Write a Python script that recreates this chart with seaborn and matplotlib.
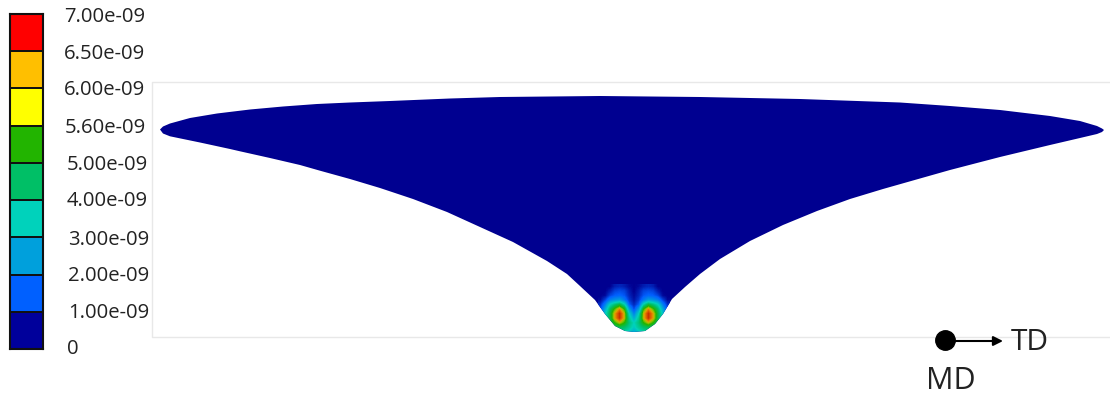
import matplotlib
matplotlib.use("Agg")
import matplotlib.pyplot as plt
from matplotlib.colors import LinearSegmentedColormap, ListedColormap
from matplotlib.patches import Polygon
import seaborn as sns

# legend
band_colors = ["#ff0000", "#ffbf00", "#ffff00", "#22b400", "#00bf66",
               "#00d2bb", "#00a0dc", "#0060ff", "#00009b"]
band_ids = [[0], [1], [2], [3], [4], [5], [6], [7], [8]]
legend_labels = ["7.00e-09", "6.50e-09", "6.00e-09", "5.60e-09", "5.00e-09",
                 "4.00e-09", "3.00e-09", "2.00e-09", "1.00e-09", "0"]
label_x = [64, 64, 64, 65, 67, 67, 68, 68, 68, 67]
label_y = [17, 54, 90, 128, 165, 201, 240, 276, 313, 349]

# sheet outline in image pixels
top_x = [160, 163, 170, 190, 217, 250, 283, 317, 350, 390, 450, 500, 600, 700, 800, 900,
         950, 1000, 1050, 1080, 1097, 1102, 1104]
top_y = [130.5, 127.5, 124.5, 119, 114.5, 110.5, 107.5, 105, 103.5, 102, 99.5, 98, 97, 98, 100, 103.5,
         107, 111, 117, 122, 127, 129.5, 131]
bot_x = [1102, 1097, 1080, 1050, 1000, 950, 920, 883, 850, 817, 783, 750, 740, 720, 700, 685,
         672, 663, 655, 645, 634, 625, 615, 605, 595, 580, 567, 547, 513, 480, 447, 413,
         380, 350, 320, 300, 270, 240, 230, 200, 170, 163]
bot_y = [133, 135, 139, 146, 158, 171, 179.5, 190, 200, 212, 226, 242, 248, 260, 275, 288,
         300, 315, 325, 332, 333, 332, 327, 315, 301, 287, 275, 262, 243, 228, 213, 200,
         189, 180, 171.7, 166, 159, 152.3, 150, 143.5, 137.3, 134.5]

# field near the tip, units of 1e-9
field_x = [598, 670]
field_y = [285, 335]
field = [
    [0, 0, 0, .3, .4, .3, .1, 0, .1, .3, .4, .3, 0, 0, 0],
    [0, 0, .3, .7, .8, .7, .3, 0, .3, .7, .8, .7, .3, 0, 0],
    [0, .1, .7, 1.0, 1.1, .9, .4, .1, .4, .9, 1.1, 1.0, .7, .1, 0],
    [.1, .7, 1.5, 1.8, 2.0, 1.4, .6, .2, .6, 1.4, 2.0, 1.8, 1.5, .7, .1],
    [.5, 1.5, 3.0, 3.8, 4.4, 3.2, 1.0, .4, 1.0, 3.2, 4.4, 3.8, 3.0, 1.5, .5],
    [.8, 2.2, 4.0, 5.2, 6.2, 5.0, 2.0, .8, 2.0, 5.0, 6.2, 5.2, 4.0, 2.2, .8],
    [1.0, 2.8, 4.3, 6.0, 7.0, 5.8, 3.0, 1.5, 3.0, 5.8, 7.0, 6.0, 4.3, 2.8, 1.0],
    [1.0, 2.8, 4.3, 6.0, 7.0, 5.8, 3.5, 2.2, 3.5, 5.8, 7.0, 6.0, 4.3, 2.8, 1.0],
    [1.0, 2.5, 4.0, 5.0, 5.8, 5.0, 3.8, 3.0, 3.8, 5.0, 5.8, 5.0, 4.0, 2.5, 1.0],
    [1.0, 2.0, 3.5, 4.0, 4.2, 4.0, 3.5, 2.8, 3.5, 4.0, 4.2, 4.0, 3.5, 2.0, 1.0],
    [1.0, 2.0, 3.0, 3.5, 3.5, 3.3, 2.8, 2.2, 2.8, 3.3, 3.5, 3.5, 3.0, 2.0, 1.0],
]
field_levels = [0, 1, 2, 3, 4, 5, 5.6, 6, 6.5, 7]
field_colors = ["#000090", "#0060ff", "#00a0dc", "#00d2bb", "#00bf66",
                "#22b400", "#a0c000", "#e0a000", "#e06000", "#c83000"]

sns.set_style("white")
plt.rcParams["font.family"] = ["Open Sans", "DejaVu Sans"]

fig = plt.figure(figsize=(11.10, 4.02), dpi=100)
ax = fig.add_axes([0, 0, 1, 1])
ax.set_xlim(0, 1110)
ax.set_ylim(402, 0)
ax.axis("off")

# thin frame behind the sheet
ax.plot([1110, 152, 152, 1110], [83, 83, 338, 338], color="#e8e8e8", lw=1)

sheet = Polygon(list(zip(top_x + bot_x, top_y + bot_y)), closed=True, fc="#000090", ec="none", zorder=2)
ax.add_patch(sheet)

cmap = LinearSegmentedColormap.from_list(
    "field", [(v / 7, c) for v, c in zip(field_levels, field_colors)])
im = ax.imshow(field, extent=[field_x[0], field_x[1], field_y[1], field_y[0]], cmap=cmap,
               vmin=0, vmax=7, interpolation="bilinear", aspect="auto", zorder=3)
im.set_clip_path(sheet)
ax.set_xlim(0, 1110)
ax.set_ylim(402, 0)

# legend bar
cax = fig.add_axes([10 / 1110, 1 - 350 / 402, 33 / 1110, 335 / 402])
sns.heatmap(band_ids, ax=cax, cmap=ListedColormap(band_colors), cbar=False,
            linewidths=1.3, linecolor="#111111", xticklabels=False, yticklabels=False)
for s in cax.spines.values():
    s.set_visible(True)
    s.set_color("#111111")
    s.set_linewidth(1.5)

for t, x, y in zip(legend_labels, label_x, label_y):
    ax.text(x, y, t, fontsize=14.6, color="#222222", va="center", ha="left")

# direction marker
ax.plot([945], [341], "o", color="black", ms=14, zorder=5)
ax.annotate("", xy=(1003, 342), xytext=(950, 342),
            arrowprops=dict(arrowstyle="-|>", color="black", lw=1.5, mutation_scale=14,
                            shrinkA=0, shrinkB=0), zorder=5)
ax.text(1011, 343, "TD", fontsize=21.5, color="#222222", va="center", ha="left")
ax.text(926, 381, "MD", fontsize=22, color="#222222", va="center", ha="left")

fig.savefig("out.png", dpi=100)
